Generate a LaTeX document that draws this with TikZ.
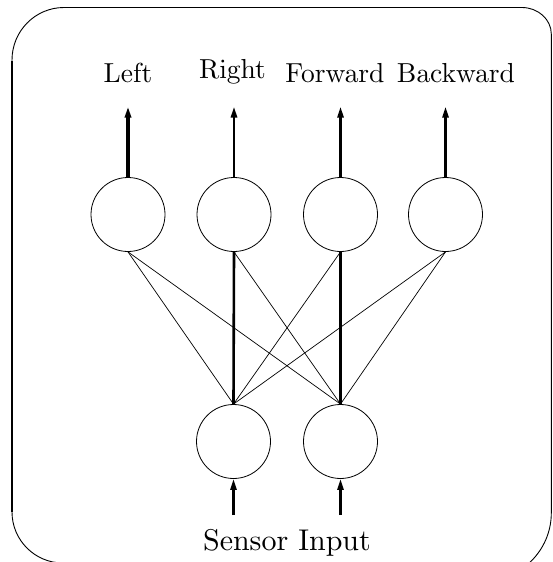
\documentclass[tikz,border=0pt]{standalone}
\usetikzlibrary{arrows.meta}
\font\toplblfont=cmr10 at 27.5pt
\font\inlblfont=cmr10 at 30pt
\begin{document}
\begin{tikzpicture}[x=1pt,y=-1pt,
  neuron/.style={circle, draw, line width=0.8pt, minimum size=74pt, inner sep=0pt},
  thinlink/.style={line width=0.7pt},
  outlbl/.style={anchor=base, inner sep=0pt, font=\toplblfont},
  inlbl/.style={anchor=base, inner sep=0pt, font=\inlblfont},
  arr/.style={line width=2.4pt, -{Triangle[length=11pt,width=6pt]}}]
\useasboundingbox (0,0) rectangle (552,562);
\begin{scope}
  \clip (0,0) rectangle (552,562);
  \draw[line width=0.9pt]
    (12,512) -- (12,60)
    .. controls (12,31) and (35.3,7.5) .. (64,7.5)
    -- (522,7.5)
    .. controls (538,7.5) and (551.3,19.4) .. (551.3,34)
    -- (551.3,513)
    .. controls (551.3,550.5) and (520.5,581) .. (483,581)
    -- (63,563)
    .. controls (34.8,563) and (12,540) .. (12,512) -- cycle;
  \draw[line width=1.8pt] (12,61) -- (12,512);
  \draw[line width=1.8pt] (65,7.5) -- (521,7.5);
\end{scope}
% neurons
\node[neuron] (t1) at (128,214.5) {};
\node[neuron] (t2) at (234,214.5) {};
\node[neuron] (t3) at (340.5,214.5) {};
\node[neuron] (t4) at (445.5,214.5) {};
\node[neuron] (b1) at (233.5,441.5) {};
\node[neuron] (b2) at (340.5,441.5) {};
% links
\draw[thinlink] (t1.south) -- (b1.north);
\draw[thinlink] (t1.south) -- (b2.north);
\draw[line width=2.6pt] (t2.south) -- (b1.north);
\draw[thinlink] (t2.south) -- (b2.north);
\draw[thinlink] (t3.south) -- (b1.north);
\draw[line width=3.6pt] (t3.south) -- (b2.north);
\draw[thinlink] (t4.south) -- (b1.north);
\draw[thinlink] (t4.south) -- (b2.north);
% outputs
\coordinate (o1) at (128,106.5);
\coordinate (o2) at (234,106.5);
\coordinate (o3) at (340.5,106.5);
\coordinate (o4) at (445.5,106.5);
\draw[arr, line width=3.2pt] (t1.north) -- (o1);
\draw[arr, line width=2.6pt] (t2.north) -- (o2);
\draw[arr] (t3.north) -- (o3);
\draw[arr] (t4.north) -- (o4);
% inputs
\coordinate (i1) at (233.5,515);
\coordinate (i2) at (340.5,515);
\draw[arr] (i1) -- (b1.south);
\draw[arr] (i2) -- (b2.south);
% labels
\node[outlbl] (lleft) at (128,82) {Left};
\node[outlbl] (lright) at (232.5,78) {Right};
\node[outlbl] (lfwd) at (335,82) {Forward};
\node[outlbl] (lback) at (456,82) {Backward};
\node[inlbl] (lsens) at (287,550) {Sensor Input};
\end{tikzpicture}
\end{document}
